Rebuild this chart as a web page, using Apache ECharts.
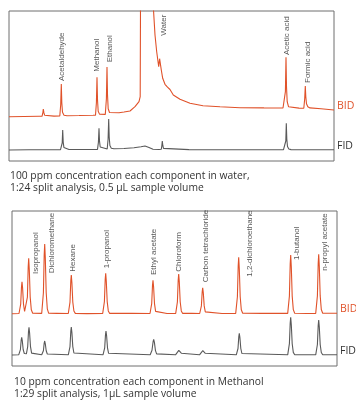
<!DOCTYPE html>
<html>
<head>
<meta charset="utf-8">
<script src="https://cdn.jsdelivr.net/npm/echarts@6/dist/echarts.min.js"></script>
<style>html,body{margin:0;padding:0;background:#fff}#c{width:356px;height:400px}</style>
</head>
<body>
<div id="c"></div>
<script>
// Panel 1: 100 ppm in water — traced signal [retention time (arb.), response (arb.)]
var bid1 = [[0,0],[15,0.2],[30,0.4],
  [33,0.4],[33.8,3.5],[34.3,7.7],[34.9,4],[35.6,1.5],[37,0.6],[45,0.6],
  [50.8,0.7],[51.7,12],[52.3,32.7],[52.8,14],[53.5,4.5],[55,1.5],[58,1],[70,1.2],[84,1.5],
  [86.5,1.6],[87.4,14],[88,39.4],[88.5,17],[89.2,5.5],[90.5,2.6],[92,2.2],
  [96.3,2.3],[97.4,18],[98,49.7],[98.5,22],[99.2,8],[100.5,4.2],[102,3.5],
  [110,4],[115,4.7],[121,5.7],[126,10],[130,15],[131.2,20],
  [131.5,110],[144.3,110],[146,81.7],[147.7,65],[149.7,50],[150.6,58],[151.3,60],[152.3,46.7],
  [153.7,38.4],[156,32.4],[158.5,29.5],[160.3,27.7],[161,27.2],[164.3,21.7],[171,17.4],[181,13.4],
  [194,11],[211,10],[231,9],[255,8.8],[274,8.7],
  [275.6,8.8],[276.4,25],[277,59.4],[277.5,30],[278.2,15],[279.5,10],[281,9],[290,8.6],
  [294.8,8.5],[295.7,18],[296.3,30.7],[296.8,20],[297.5,13],[298.8,10],[301,8.8],[312,8],[325,6.7]];
var fid1 = [[0,0],[20,0.2],[40,0.3],[51.5,0.4],
  [52.8,0.5],[53.2,7],[53.7,20],[54.2,8],[54.9,2.5],[56.3,0.8],[60,0.5],[75,0.5],
  [88.5,0.6],[89.4,7.6],[90,21.7],[90.5,9],[91.2,3],[92.5,1.2],
  [98.2,1],[99.1,11],[99.7,31],[100.2,13],[100.9,4.5],[102.3,1.8],[105,1.2],
  [115,1.5],[125,2.2],[132,3.3],[136,4],[140,2.5],[144,0.8],[150,0.5],
  [152.3,0.8],[152.8,4],[153.3,9],[153.8,4.5],[154.5,1.6],[156,0.6],[180,0.4],[230,0.3],[274.5,0.3],
  [276.2,0.4],[276.8,9],[277.3,26.7],[277.8,11],[278.5,3.5],[279.8,1],[282,0.4],[325,0.3]];
var names1 = ['Acetaldehyde','Methanol','Ethanol','Water','Acetic acid','Formic acid'];
var labelT1 = [52.3, 88, 101, 155, 277.7, 298.7];
var labelV1 = [35.7, 45, 54.4, 81, 61.7, 33.7];

// Panel 2: 10 ppm in methanol
var bid2 = [[0,0],[7,0.2],
  [8.7,9.6],[9.5,27],[10,32],[10.6,25.6],[11.5,9.6],[12.6,2.2],[13.8,1.5],
  [14.4,1.8],[15.4,16.6],[16.2,47],[16.7,55.4],[17.3,44],[18.2,16.6],[19.3,3.9],[20.7,0.5],
  [29.7,0.3],[31.4,21],[32.2,59],[32.7,69.7],[33.3,56],[34.2,21],[35.3,4.9],[36.7,0.4],[45,0.3],
  [56.3,0.2],[58,11.6],[58.8,33],[59.3,38.7],[59.9,31],[60.8,11.6],[61.9,2.7],[63.3,0.3],[75,0.1],
  [90.7,0.3],[92.4,12],[93.2,34.3],[93.7,40.4],[94.3,32.3],[95.2,12.1],[96.3,2.8],[97.7,0.3],[120,0.3],
  [138,0.2],[139.7,10],[140.5,28.4],[141,33.4],[141.6,26.7],[142.5,10],[143.6,2.3],[145,0.3],[155,0.2],
  [163.7,0.3],[165.4,11.9],[166.2,33.7],[166.7,39.7],[167.3,31.8],[168.2,11.9],[169.3,2.8],[170.7,0.3],[180,0.4],
  [187.7,0.2],[189.4,7.8],[190.2,22],[190.7,26],[191.3,20.8],[192.2,7.8],[193.3,1.8],[194.7,0.3],[210,0.2],
  [223.7,0.3],[225.4,17],[226.2,48],[226.7,56.4],[227.3,45],[228.2,17],[229.3,4],[230.7,0.4],[250,0.3],
  [275.7,0.3],[277.4,17.6],[278.2,50],[278.7,58.7],[279.3,47],[280.2,17.6],[281.3,4.1],[282.7,0.4],[295,0.2],
  [303.7,0.3],[305.4,17.8],[306.2,50.5],[306.7,59.4],[307.3,47.5],[308.2,17.8],[309.3,4.2],[310.7,0.4],[325,0.4]];
var fid2 = [[0,0],[6.7,0.2],
  [8.4,5.3],[9.2,15],[9.7,17.7],[10.3,14.2],[11.2,5.3],[12.3,1.5],[13.5,1],
  [14.4,1.2],[15.7,8.3],[16.5,23.5],[17,27.7],[17.6,22],[18.5,8.3],[19.6,1.9],[21,0.3],
  [29.7,0.2],[31.4,4.2],[32.2,11.9],[32.7,14],[33.3,11.2],[34.2,4.2],[35.3,1],[36.7,0.2],
  [56.3,0.2],[58,8.4],[58.8,23.8],[59.3,28],[59.9,22.4],[60.8,8.4],[61.9,2],[63.3,0.2],
  [91,0.2],[92.7,7.2],[93.5,20.4],[94,24],[94.6,19.2],[95.5,7.2],[96.6,1.7],[98,0.2],
  [138.2,0.2],[140,4.7],[141.1,13.3],[141.7,15.7],[142.4,12.6],[143.4,4.7],[144.6,1.1],[146,0.2],
  [163.5,0.2],[165.5,2],[166.8,4.6],[167.3,5],[168,4.2],[169.3,1.8],[171,0.3],
  [187.5,0.2],[189.5,1.9],[190.8,4.3],[191.3,4.7],[192,4],[193.3,1.7],[195,0.3],
  [224.3,0.2],[226,6.5],[226.8,18.4],[227.3,21.7],[227.9,17.4],[228.8,6.5],[229.9,1.5],[231.3,0.2],
  [275.7,0.2],[277.4,11.3],[278.2,32],[278.7,37.7],[279.3,30.2],[280.2,11.3],[281.3,2.6],[282.7,0.2],
  [303.7,0.2],[305.4,10.5],[306.2,29.8],[306.7,35],[307.3,28],[308.2,10.5],[309.3,2.5],[310.7,0.2],[325,0.2]];
var names2 = ['Isopropanol','Dichloromethane','Hexane','1-propanol','Ethyl acetate','Chloroform',
  'Carbon tetrachloride','1,2-dichloroethane','1-butanol','n-propyl acetate'];
var labelT2 = [24, 40, 60.7, 94.7, 142, 167, 193.7, 237.3, 284.7, 313];
var labelV2 = [39.7, 40.4, 42, 45.4, 38.7, 42, 31.4, 37, 53.7, 43];

var caption1 = '100 ppm concentration each component in water,\n1:24 split analysis, 0.5 µL sample volume';
var caption2 = '10 ppm concentration each component in Methanol\n1:29 split analysis, 1µL sample volume';

var ORANGE = '#e0522a', GREY = '#5a5a5a';
var chart = echarts.init(document.getElementById('c'));

function pts(names, t, v) {
  return names.map(function (n, i) { return { name: n, value: [t[i], v[i]] }; });
}
function trace(name, data, idx, color, labelColor) {
  return {
    type: 'line', name: name, data: data, xAxisIndex: idx, yAxisIndex: idx,
    symbol: 'none', silent: true, clip: true,
    lineStyle: { color: color, width: 1.1 },
    endLabel: { show: true, formatter: name, color: labelColor, fontSize: 10.5,
      fontFamily: 'Open Sans', distance: 3, offset: [0, -4] }
  };
}
function labels(data, idx) {
  return {
    type: 'scatter', data: data, xAxisIndex: idx, yAxisIndex: idx,
    symbol: 'circle', symbolSize: 1, silent: true,
    itemStyle: { color: 'transparent' },
    label: { show: true, formatter: '{b}', position: 'inside', rotate: 90,
      align: 'left', verticalAlign: 'middle', fontSize: 8,
      fontFamily: 'Liberation Sans', color: '#2a2a2a' }
  };
}
var g1 = { left: 9, top: 11, width: 325, height: 150 };
var g2 = { left: 12, top: 211, width: 325, height: 155 };
function grid(g, show) {
  return Object.assign({ show: show, borderColor: '#6e6e6e', borderWidth: 1, containLabel: false }, g);
}
var xa = { type: 'value', min: 0, max: 325, show: false };
var capStyle = { fontSize: 10.3, fontWeight: 'normal', color: '#333', lineHeight: 12.5, fontFamily: 'Open Sans' };
chart.setOption({
  animation: false,
  title: [
    { text: caption1, left: 10, top: 169.5, padding: 0, textStyle: capStyle },
    { text: caption2, left: 14, top: 375.5, padding: 0, textStyle: capStyle }
  ],
  grid: [grid(g1, true), grid(g1, false), grid(g2, true), grid(g2, false)],
  xAxis: [Object.assign({ gridIndex: 0 }, xa), Object.assign({ gridIndex: 1 }, xa),
          Object.assign({ gridIndex: 2 }, xa), Object.assign({ gridIndex: 3 }, xa)],
  yAxis: [
    { gridIndex: 0, type: 'value', min: -44.3, max: 105.7, show: false },
    { gridIndex: 1, type: 'value', min: -11, max: 139, show: false },
    { gridIndex: 2, type: 'value', min: -52.3, max: 102.7, show: false },
    { gridIndex: 3, type: 'value', min: -11, max: 144, show: false }
  ],
  series: [
    trace('BID', bid1, 0, ORANGE, ORANGE),
    trace('FID', fid1, 1, GREY, '#333'),
    trace('BID', bid2, 2, ORANGE, ORANGE),
    trace('FID', fid2, 3, GREY, '#333'),
    labels(pts(names1, labelT1, labelV1), 0),
    labels(pts(names2, labelT2, labelV2), 2)
  ]
});
</script>
</body>
</html>
